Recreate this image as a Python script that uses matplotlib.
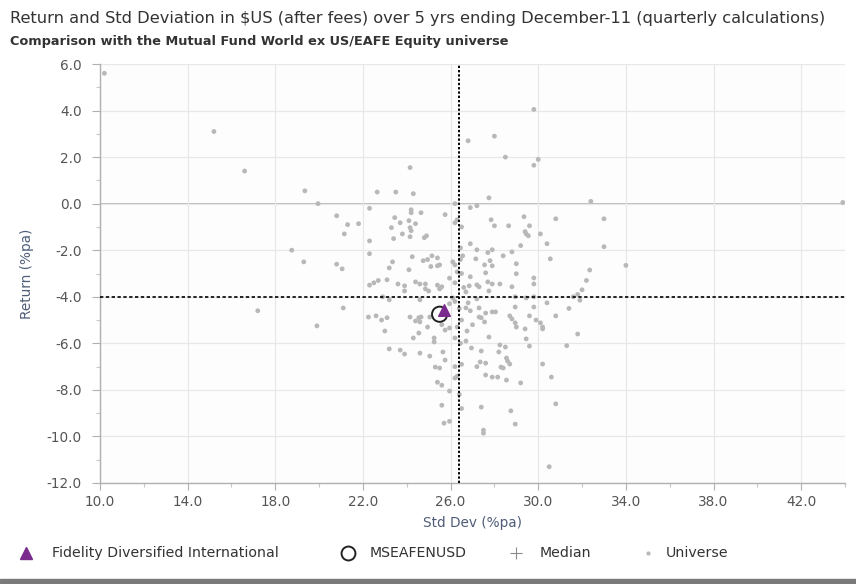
import matplotlib
matplotlib.use("Agg")
import matplotlib.pyplot as plt
from matplotlib.lines import Line2D
from matplotlib.patches import Rectangle
from matplotlib.ticker import MultipleLocator, FormatStrFormatter

# ---- data -------------------------------------------------------------
title = "Return and Std Deviation in $US (after fees) over 5 yrs ending December-11 (quarterly calculations)"
subtitle = "Comparison with the Mutual Fund World ex US/EAFE Equity universe"

fund_name = "Fidelity Diversified International"
fund_std, fund_ret = 25.7, -4.55

bench_name = "MSEAFENUSD"
bench_std, bench_ret = 25.5, -4.75

median_std, median_ret = 26.4, -4.0

# universe of peer funds: std dev (%pa), return (%pa)
universe_std = [
    10.2, 15.2, 16.6, 19.35, 19.95, 18.75, 19.3, 17.2, 19.9,
    22.65, 23.5, 24.3, 24.15,
    22.3, 24.2, 24.2, 24.65, 25.75, 20.8,
    21.3, 21.8, 21.15,
    23.45, 23.7, 24.1, 24.4, 24.15, 24.2, 23.3,
    23.8, 24.15, 23.4, 24.8, 24.9, 26.2, 22.3, 22.3,
    20.8, 21.05, 23.35, 24.25, 24.75, 24.95, 25.15, 25.4,
    25.1, 25.4, 25.5, 26.1, 26.2, 23.2, 24.1, 23.1,
    22.3, 22.5, 22.7, 23.6, 23.9, 23.9, 24.4, 24.6, 24.85,
    24.85, 25.0, 25.4, 25.5, 25.6, 25.95, 26.2, 26.3,
    22.9, 23.2, 24.6, 21.1, 26.2, 26.2,
    29.8, 28.0, 26.8, 28.5, 30.0, 29.8, 27.75, 32.4, 43.9,
    30.8, 33.0, 33.0, 34.0, 32.35, 32.2, 32.0, 31.8, 31.6,
    31.9, 31.4, 31.8, 31.3,
    26.9, 27.2, 26.3, 27.85, 28.0, 28.65, 29.35, 29.6,
    29.4, 29.45, 29.55, 30.1, 30.4, 29.2, 26.9, 27.2,
    27.7, 27.9, 28.4, 28.8, 26.55, 27.15, 27.55, 27.8,
    27.9, 29.0, 30.55, 27.6, 26.9, 29.0, 29.8, 29.8,
    27.7, 27.9, 28.25, 26.85, 27.2, 27.3, 28.8, 27.75,
    26.7, 28.95, 29.45, 29.8, 30.4, 26.8, 27.2, 28.05,
    28.95, 29.8,
    22.25, 22.6, 22.85, 23.1, 23.0, 24.15, 24.4, 24.55,
    24.6, 24.65, 25.05, 24.95, 24.55, 24.3, 25.25, 25.25,
    25.6, 25.75, 25.95, 26.2, 23.2, 23.7, 23.9, 24.6,
    25.05, 25.65, 25.75, 25.3, 25.5, 26.2, 26.3, 26.2,
    25.4, 25.6, 25.95, 25.6, 25.7, 25.95,
    26.7, 26.9, 27.3, 27.6, 27.9, 27.3, 27.4, 27.0, 27.55,
    28.7, 28.8, 29.6, 28.95, 29.0, 29.9, 30.1, 30.2, 30.2,
    30.8, 29.4, 26.75, 27.75, 29.45, 26.7, 26.95, 27.4,
    28.25, 28.5, 28.2, 29.6, 28.55, 28.6, 28.7, 28.3,
    28.4, 27.35, 27.6, 27.2, 30.2, 27.6, 27.9, 28.15,
    28.55, 29.2, 30.6, 30.8, 27.4, 28.75, 28.95, 27.5,
    27.5, 30.5,
    26.5, 26.45, 26.5, 26.4, 26.5, 26.45, 26.5, 26.4, 26.5, 26.45, 26.3, 26.6,
    25.95, 26.1,
]
universe_ret = [
    5.6, 3.1, 1.4, 0.55, 0.0, -2.0, -2.5, -4.6, -5.25,
    0.5, 0.5, 0.43, 1.55,
    -0.2, -0.26, -0.39, -0.39, -0.47, -0.52,
    -0.9, -0.86, -1.3,
    -0.6, -0.82, -0.73, -0.86, -1.03, -1.16, -1.03,
    -1.3, -1.42, -1.5, -1.46, -1.38, -0.82, -1.6, -2.15,
    -2.6, -2.8, -2.5, -2.28, -2.45, -2.4, -2.24, -2.33,
    -2.7, -2.67, -2.63, -2.5, -2.63, -2.76, -2.84, -3.27,
    -3.5, -3.4, -3.3, -3.45, -3.53, -3.75, -3.36, -3.45, -3.45,
    -3.66, -3.75, -3.5, -3.66, -3.57, -3.2, -3.4, -2.93,
    -4.0, -4.13, -4.13, -4.48, -4.2, 0.0,
    4.05, 2.9, 2.7, 2.0, 1.9, 1.65, 0.25, 0.1, 0.05,
    -0.65, -0.65, -1.85, -2.65, -2.85, -3.3, -3.7, -3.9, -4.0,
    -4.15, -4.5, -5.6, -6.1,
    -0.17, -0.09, -0.69, -0.69, -0.95, -0.95, -0.56, -0.95,
    -1.2, -1.3, -1.38, -1.3, -1.72, -1.8, -1.72, -1.98,
    -2.1, -1.98, -2.24, -2.07, -2.24, -2.37, -2.63, -2.45,
    -2.67, -2.58, -2.37, -2.97, -3.14, -3.01, -3.19, -3.45,
    -3.36, -3.45, -3.45, -3.53, -3.49, -3.57, -3.57, -3.75,
    -3.79, -4.0, -4.05, -4.0, -4.26, -4.26, -4.09, -4.65,
    -4.44, -4.44,
    -4.87, -4.82, -5.0, -4.9, -5.47, -4.87, -5.04, -4.9,
    -5.08, -4.87, -4.87, -5.3, -5.56, -5.77, -5.77, -5.94,
    -5.2, -5.43, -5.34, -5.77, -6.24, -6.29, -6.46, -6.42,
    -6.55, -6.37, -6.72, -7.02, -7.06, -7.49, -7.41, -7.0,
    -7.67, -7.8, -8.05, -8.66, -9.43, -9.35,
    -4.48, -4.6, -4.48, -4.7, -4.65, -4.87, -4.9, -5.2, -5.08,
    -4.82, -4.95, -4.82, -5.12, -5.3, -5.0, -5.12, -5.3, -5.38,
    -4.82, -5.38, -5.47, -5.73, -5.81, -5.9, -6.2, -6.33,
    -6.07, -6.16, -6.37, -6.12, -6.63, -6.76, -6.89, -7.02,
    -7.06, -6.8, -6.85, -7.0, -6.89, -7.36, -7.45, -7.45,
    -7.58, -7.7, -7.45, -8.6, -8.74, -8.9, -9.47, -9.73,
    -9.86, -11.3,
    -1.0, -1.9, -3.0, -4.5, -5.0, -6.0, -6.9, -8.2, -8.8, -2.4, -5.3, -3.6,
    -4.3, -4.05,
]

x_ticks = [10.0, 14.0, 18.0, 22.0, 26.0, 30.0, 34.0, 38.0, 42.0]
y_ticks = [6.0, 4.0, 2.0, 0.0, -2.0, -4.0, -6.0, -8.0, -10.0, -12.0]

# ---- colours ----------------------------------------------------------
purple = "#7b2a8e"
dot_grey = "#b8b8b8"
text_dark = "#333333"
tick_grey = "#555555"
label_blue = "#4f5d78"
font = "DejaVu Sans"

fig = plt.figure(figsize=(8.56, 5.84), dpi=100)
fig.patch.set_facecolor("white")

ax = fig.add_axes([100 / 856, 1 - 483 / 584, 745 / 856, 419 / 584])
ax.set_facecolor("#fdfdfd")

ax.set_xlim(10, 44)
ax.set_ylim(-12, 6)
ax.set_xticks(x_ticks)
ax.set_yticks(y_ticks)
ax.xaxis.set_minor_locator(MultipleLocator(2))
ax.yaxis.set_minor_locator(MultipleLocator(1))
ax.xaxis.set_major_formatter(FormatStrFormatter("%.1f"))
ax.yaxis.set_major_formatter(FormatStrFormatter("%.1f"))

ax.grid(True, which="major", color="#e8e8e8", linewidth=0.9, zorder=0)
for side in ("top", "right"):
    ax.spines[side].set_visible(False)
for side in ("left", "bottom"):
    ax.spines[side].set_color("#b0b0b0")
    ax.spines[side].set_linewidth(1.0)

ax.tick_params(axis="y", which="major", length=6, width=0.8, color="#b0b0b0",
               labelsize=9.8, labelcolor=tick_grey, pad=7)
ax.tick_params(axis="x", which="major", length=5, width=0.8, color="#b0b0b0",
               labelsize=9.8, labelcolor=tick_grey, pad=4)
ax.tick_params(axis="both", which="minor", length=3, width=0.8, color="#c8c8c8")
for lbl in ax.get_xticklabels() + ax.get_yticklabels():
    lbl.set_family(font)

# zero-return reference line
ax.axhline(0, color="#a8a8a8", linewidth=1.1, zorder=1)

# universe
ax.scatter(universe_std, universe_ret, s=12, color=dot_grey, edgecolors="none", zorder=2)

# median cross-hairs
ax.axvline(median_std, color="black", linewidth=1.4, linestyle=(0, (1.2, 1.0)), zorder=3)
ax.axhline(median_ret, color="black", linewidth=1.2, linestyle=(0, (2.0, 1.5)), zorder=3)

# benchmark and fund
ax.scatter([bench_std], [bench_ret], s=120, facecolors="none", edgecolors="#222222",
           linewidths=1.4, zorder=4)
ax.scatter([fund_std], [fund_ret], s=70, marker="^", color=purple, zorder=5)

ax.set_xlabel("Std Dev (%pa)", fontsize=9.8, color=label_blue, labelpad=5, family=font)
ax.set_ylabel("Return (%pa)", fontsize=9.8, color=label_blue, labelpad=9, family=font)

fig.text(10 / 856, 1 - 18 / 584, title, fontsize=11.7, color=text_dark,
         va="center", ha="left", family=font)
fig.text(10 / 856, 1 - 42 / 584, subtitle, fontsize=9.3, color=text_dark,
         va="center", ha="left", family=font, weight="bold")

# legend row along the bottom
legend_y = 1 - 553 / 584
legend_items = [
    (26, 52, fund_name,
     dict(marker="^", markersize=8, color=purple, linestyle="none")),
    (348, 370, bench_name,
     dict(marker="o", markersize=10, markerfacecolor="none", markeredgecolor="#222222",
          markeredgewidth=1.4, linestyle="none")),
    (516, 540, "Median",
     dict(marker="+", markersize=9, markeredgewidth=0.8, color="#8a8a8a", linestyle="none")),
    (648, 666, "Universe",
     dict(marker="o", markersize=3, color=dot_grey, markeredgecolor="none", linestyle="none")),
]
for mx, tx, text, style in legend_items:
    fig.add_artist(Line2D([mx / 856], [legend_y], transform=fig.transFigure, **style))
    fig.text(tx / 856, legend_y, text, fontsize=10.2, color=text_dark,
             va="center", ha="left", family=font)

# grey strip at the bottom edge
fig.add_artist(Rectangle((0, 0), 1, 5 / 584, transform=fig.transFigure,
                         color="#7a7a7a", zorder=0))

fig.savefig("out.png", dpi=100)
